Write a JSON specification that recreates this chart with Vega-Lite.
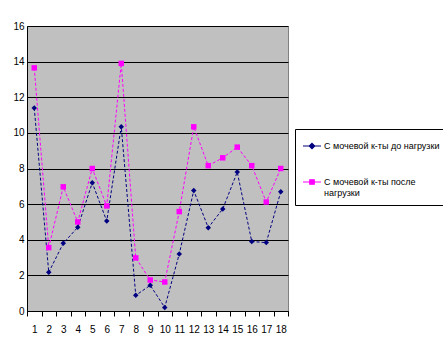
{
  "$schema": "https://vega.github.io/schema/vega-lite/v6.json",
  "width": 261,
  "height": 285,
  "autosize": {"type": "none"},
  "padding": {"left": 27, "top": 26, "right": 155, "bottom": 49},
  "background": "white",
  "data": {
    "values": [
      {"n": 1, "s": "С мочевой к-ты до нагрузки", "v": 11.4},
      {"n": 2, "s": "С мочевой к-ты до нагрузки", "v": 2.17},
      {"n": 3, "s": "С мочевой к-ты до нагрузки", "v": 3.8},
      {"n": 4, "s": "С мочевой к-ты до нагрузки", "v": 4.7},
      {"n": 5, "s": "С мочевой к-ты до нагрузки", "v": 7.2},
      {"n": 6, "s": "С мочевой к-ты до нагрузки", "v": 5.05},
      {"n": 7, "s": "С мочевой к-ты до нагрузки", "v": 10.35},
      {"n": 8, "s": "С мочевой к-ты до нагрузки", "v": 0.88},
      {"n": 9, "s": "С мочевой к-ты до нагрузки", "v": 1.44},
      {"n": 10, "s": "С мочевой к-ты до нагрузки", "v": 0.2},
      {"n": 11, "s": "С мочевой к-ты до нагрузки", "v": 3.2},
      {"n": 12, "s": "С мочевой к-ты до нагрузки", "v": 6.76},
      {"n": 13, "s": "С мочевой к-ты до нагрузки", "v": 4.68},
      {"n": 14, "s": "С мочевой к-ты до нагрузки", "v": 5.73},
      {"n": 15, "s": "С мочевой к-ты до нагрузки", "v": 7.8},
      {"n": 16, "s": "С мочевой к-ты до нагрузки", "v": 3.9},
      {"n": 17, "s": "С мочевой к-ты до нагрузки", "v": 3.84},
      {"n": 18, "s": "С мочевой к-ты до нагрузки", "v": 6.69},
      {"n": 1, "s": "С мочевой к-ты после нагрузки", "v": 13.65},
      {"n": 2, "s": "С мочевой к-ты после нагрузки", "v": 3.56},
      {"n": 3, "s": "С мочевой к-ты после нагрузки", "v": 6.97},
      {"n": 4, "s": "С мочевой к-ты после нагрузки", "v": 5.0},
      {"n": 5, "s": "С мочевой к-ты после нагрузки", "v": 8.0},
      {"n": 6, "s": "С мочевой к-ты после нагрузки", "v": 5.9},
      {"n": 7, "s": "С мочевой к-ты после нагрузки", "v": 13.9},
      {"n": 8, "s": "С мочевой к-ты после нагрузки", "v": 2.98},
      {"n": 9, "s": "С мочевой к-ты после нагрузки", "v": 1.74},
      {"n": 10, "s": "С мочевой к-ты после нагрузки", "v": 1.63},
      {"n": 11, "s": "С мочевой к-ты после нагрузки", "v": 5.58},
      {"n": 12, "s": "С мочевой к-ты после нагрузки", "v": 10.34},
      {"n": 13, "s": "С мочевой к-ты после нагрузки", "v": 8.16},
      {"n": 14, "s": "С мочевой к-ты после нагрузки", "v": 8.6},
      {"n": 15, "s": "С мочевой к-ты после нагрузки", "v": 9.2},
      {"n": 16, "s": "С мочевой к-ты после нагрузки", "v": 8.16},
      {"n": 17, "s": "С мочевой к-ты после нагрузки", "v": 6.12},
      {"n": 18, "s": "С мочевой к-ты после нагрузки", "v": 8.0}
    ]
  },
  "encoding": {
    "x": {
      "field": "n", "type": "ordinal", "bandPosition": 0.5,
      "scale": {"type": "band", "paddingInner": 0, "paddingOuter": 0},
      "axis": {
        "title": null, "labelAngle": 0, "tickBand": "extent",
        "domainColor": "black", "tickColor": "black", "tickSize": 5,
        "labelFont": "Liberation Sans", "labelFontSize": 10, "labelColor": "black",
        "labelPadding": 8, "grid": false
      }
    },
    "y": {
      "field": "v", "type": "quantitative",
      "scale": {"domain": [0, 16], "nice": false},
      "axis": {
        "title": null, "values": [0, 2, 4, 6, 8, 10, 12, 14, 16],
        "grid": true, "gridColor": "black", "gridOpacity": 1, "gridWidth": 1,
        "domainColor": "black", "ticks": false, "labelPadding": 3,
        "labelFont": "Liberation Sans", "labelFontSize": 10, "labelColor": "black"
      }
    }
  },
  "layer": [
    {
      "mark": {"type": "line", "strokeWidth": 1, "strokeDash": [3, 2]},
      "encoding": {
        "color": {
          "field": "s", "type": "nominal", "legend": null,
          "scale": {
            "domain": ["С мочевой к-ты до нагрузки", "С мочевой к-ты после нагрузки"],
            "range": ["#000080", "#ff00ff"]
          }
        }
      }
    },
    {
      "mark": {"type": "point", "filled": true, "opacity": 1, "size": 30},
      "encoding": {
        "color": {"field": "s", "type": "nominal", "legend": null},
        "shape": {
          "field": "s", "type": "nominal", "legend": null,
          "scale": {
            "domain": ["С мочевой к-ты до нагрузки", "С мочевой к-ты после нагрузки"],
            "range": ["diamond", "square"]
          }
        }
      }
    },
    {
      "transform": [{"filter": "datum.n > 100"}],
      "mark": {"type": "point", "filled": true, "opacity": 1},
      "encoding": {
        "color": {"field": "s", "type": "nominal", "legend": null},
        "shape": {
          "field": "s", "type": "nominal",
          "scale": {
            "domain": ["С мочевой к-ты до нагрузки", "С мочевой к-ты после нагрузки"],
            "range": ["M-1,0H1M0,-0.3L0.3,0L0,0.3L-0.3,0Z", "M-1,0H1M-0.25,-0.25H0.25V0.25H-0.25Z"]
          },
          "legend": {
            "title": null, "orient": "none", "legendX": 268, "legendY": 103,
            "strokeColor": "black", "padding": 7, "rowPadding": 20,
            "symbolSize": 324, "symbolOpacity": 1,
            "labelFont": "Liberation Sans", "labelFontSize": 9, "labelColor": "black",
            "labelLimit": 200, "labelOffset": 2,
            "labelExpr": "datum.label == 'С мочевой к-ты после нагрузки' ? ['С мочевой к-ты после', 'нагрузки'] : datum.label",
            "fillColor": "white",
            "encoding": {
              "symbols": {
                "fill": {"value": {"expr": "datum.value == 'С мочевой к-ты до нагрузки' ? '#000080' : '#ff00ff'"}},
                "stroke": {"value": {"expr": "datum.value == 'С мочевой к-ты до нагрузки' ? '#000080' : '#ff00ff'"}},
                "strokeWidth": {"value": 1.2},
                "opacity": {"value": 1}
              }
            }
          }
        }
      }
    }
  ],
  "resolve": {"scale": {"shape": "independent"}},
  "config": {
    "view": {"fill": "#c0c0c0", "stroke": "#808080", "strokeWidth": 1}
  }
}
